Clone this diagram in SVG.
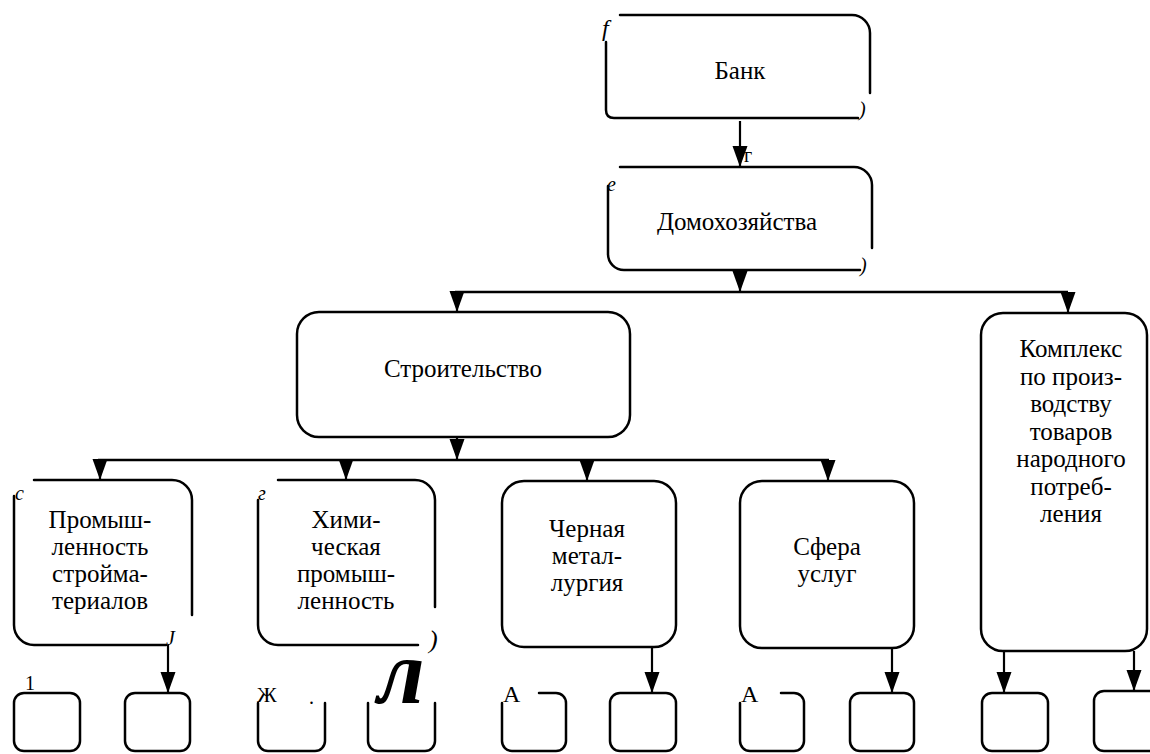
<svg xmlns="http://www.w3.org/2000/svg" width="1150" height="754" viewBox="0 0 1150 754">
<style>
.b{fill:none;stroke:#000;stroke-width:2.5;stroke-linecap:round;stroke-linejoin:round}
.c{fill:none;stroke:#000;stroke-width:2.2}
.t{font-size:25px;text-anchor:middle;fill:#000}
.s{font-style:italic;fill:#000}
.u{fill:#000}
</style>
<defs>
<marker id="ah" markerUnits="userSpaceOnUse" markerWidth="22" markerHeight="16" viewBox="0 -8 22 16" refX="21" refY="0" orient="auto">
<path d="M0,-7.5 L21,0 L0,7.5 Z" fill="#000"/>
</marker>
</defs>
<rect width="1150" height="754" fill="#fff"/>

<g font-family="'Liberation Serif', 'DejaVu Serif', serif">
<g id="connectors">
<path class="c" d="M740,121 V167" marker-end="url(#ah)"/>
<path class="c" d="M740,270 V292" marker-end="url(#ah)"/>
<path class="c" d="M455,292 H1068" style="stroke-width:2.5"/>
<path class="c" d="M457,292 V312" marker-end="url(#ah)"/>
<path class="c" d="M1068,292 V313" marker-end="url(#ah)"/>
<path class="c" d="M457,437 V460" marker-end="url(#ah)"/>
<path class="c" d="M98,460 H829" style="stroke-width:2.5"/>
<path class="c" d="M100,460 V480" marker-end="url(#ah)"/>
<path class="c" d="M346,460 V480" marker-end="url(#ah)"/>
<path class="c" d="M587,460 V481" marker-end="url(#ah)"/>
<path class="c" d="M828,460 V481" marker-end="url(#ah)"/>
<path class="c" d="M168,645 V693" marker-end="url(#ah)"/>
<path class="c" d="M652,647 V693" marker-end="url(#ah)"/>
<path class="c" d="M892,648 V693" marker-end="url(#ah)"/>
<path class="c" d="M1004,651 V693" marker-end="url(#ah)"/>
<path class="c" d="M1134,651 V691" marker-end="url(#ah)"/>
<text class="u" x="744" y="162" font-size="20">г</text>
</g>

<g id="bank">
<path class="b" d="M606,42 V110 Q606,118 614,118 H858"/>
<path class="b" d="M620,15 H852 A18,18 0 0 1 870,33 V93"/>
<text class="s" x="602" y="36" font-size="24">f</text>
<text class="s" x="859" y="116" font-size="20">)</text>
<text class="t" x="740" y="79">Банк</text>
</g>

<g id="households">
<path class="b" d="M620,167 H854 A18,18 0 0 1 872,185 V248"/>
<path class="b" d="M608,186 V254 A16,16 0 0 0 624,270 H860"/>
<text class="s" x="607" y="191" font-size="20">e</text>
<text class="s" x="860" y="272" font-size="20">)</text>
<text class="t" x="737" y="230">Домохозяйства</text>
</g>

<g id="construction">
<rect class="b" x="297" y="312" width="333" height="125" rx="22"/>
<text class="t" x="463" y="377">Строительство</text>
</g>

<g id="consumer-goods">
<rect class="b" x="981" y="313" width="166" height="338" rx="22"/>
<text class="t" x="1071" y="357">Комплекс</text>
<text class="t" x="1071" y="385">по произ-</text>
<text class="t" x="1071" y="412">водству</text>
<text class="t" x="1071" y="440">товаров</text>
<text class="t" x="1071" y="467">народного</text>
<text class="t" x="1071" y="495">потреб-</text>
<text class="t" x="1071" y="522">ления</text>
</g>

<g id="building-materials">
<path class="b" d="M34,480 H172 A20,20 0 0 1 192,500 V615"/>
<path class="b" d="M14,496 V625 A20,20 0 0 0 34,645 H166"/>
<text class="s" x="15" y="500" font-size="20">c</text>
<text class="s" x="166" y="645" font-size="20">J</text>
<text class="t" x="100" y="528">Промыш-</text>
<text class="t" x="100" y="555">ленность</text>
<text class="t" x="100" y="582">стройма-</text>
<text class="t" x="100" y="609">териалов</text>
</g>

<g id="chemical">
<path class="b" d="M278,480 H415 A20,20 0 0 1 435,500 V607"/>
<path class="b" d="M258,500 V625 A20,20 0 0 0 278,645 H418"/>
<text class="s" x="258" y="500" font-size="20">г</text>
<text class="s" x="429" y="648" font-size="26">)</text>
<text class="t" x="346" y="528">Хими-</text>
<text class="t" x="346" y="555">ческая</text>
<text class="t" x="346" y="582">промыш-</text>
<text class="t" x="346" y="609">ленность</text>
</g>

<g id="metallurgy">
<rect class="b" x="502" y="481" width="174" height="166" rx="22"/>
<text class="t" x="587" y="537">Черная</text>
<text class="t" x="587" y="564">метал-</text>
<text class="t" x="587" y="591">лургия</text>
</g>

<g id="services">
<rect class="b" x="740" y="481" width="174" height="167" rx="22"/>
<text class="t" x="827" y="555">Сфера</text>
<text class="t" x="827" y="582">услуг</text>
</g>

<g id="sub1">
<rect class="b" x="14" y="693" width="66" height="58" rx="10"/>
<text class="u" x="25" y="690" font-size="20">1</text>
</g>
<g id="sub2">
<rect class="b" x="125" y="693" width="65" height="58" rx="10"/>
</g>
<g id="sub3">
<path class="b" d="M258,703 V741 A10,10 0 0 0 268,751 H315 A10,10 0 0 0 325,741 V703"/>
<text class="u" x="257" y="702" font-size="22">Ж</text>
<text class="u" x="309" y="704" font-size="20">.</text>
</g>
<g id="sub4">
<path class="b" d="M368,703 V741 A10,10 0 0 0 378,751 H425 A10,10 0 0 0 435,741 V703"/>
<text class="s" x="401" y="703" font-size="92" font-weight="bold" text-anchor="middle">л</text>
</g>
<g id="sub5">
<path class="b" d="M539,693 H556 A10,10 0 0 1 566,703 V741 A10,10 0 0 1 556,751 H512 A10,10 0 0 1 502,741 V703"/>
<text class="u" x="503" y="702" font-size="24">А</text>
</g>
<g id="sub6">
<rect class="b" x="610" y="693" width="66" height="58" rx="10"/>
</g>
<g id="sub7">
<path class="b" d="M781,693 H794 A10,10 0 0 1 804,703 V741 A10,10 0 0 1 794,751 H750 A10,10 0 0 1 740,741 V703"/>
<text class="u" x="741" y="702" font-size="24">А</text>
</g>
<g id="sub8">
<rect class="b" x="850" y="693" width="64" height="58" rx="10"/>
</g>
<g id="sub9">
<rect class="b" x="982" y="693" width="66" height="58" rx="10"/>
</g>
<g id="sub10">
<rect class="b" x="1094" y="691" width="80" height="60" rx="10"/>
</g>
</g>
</svg>
